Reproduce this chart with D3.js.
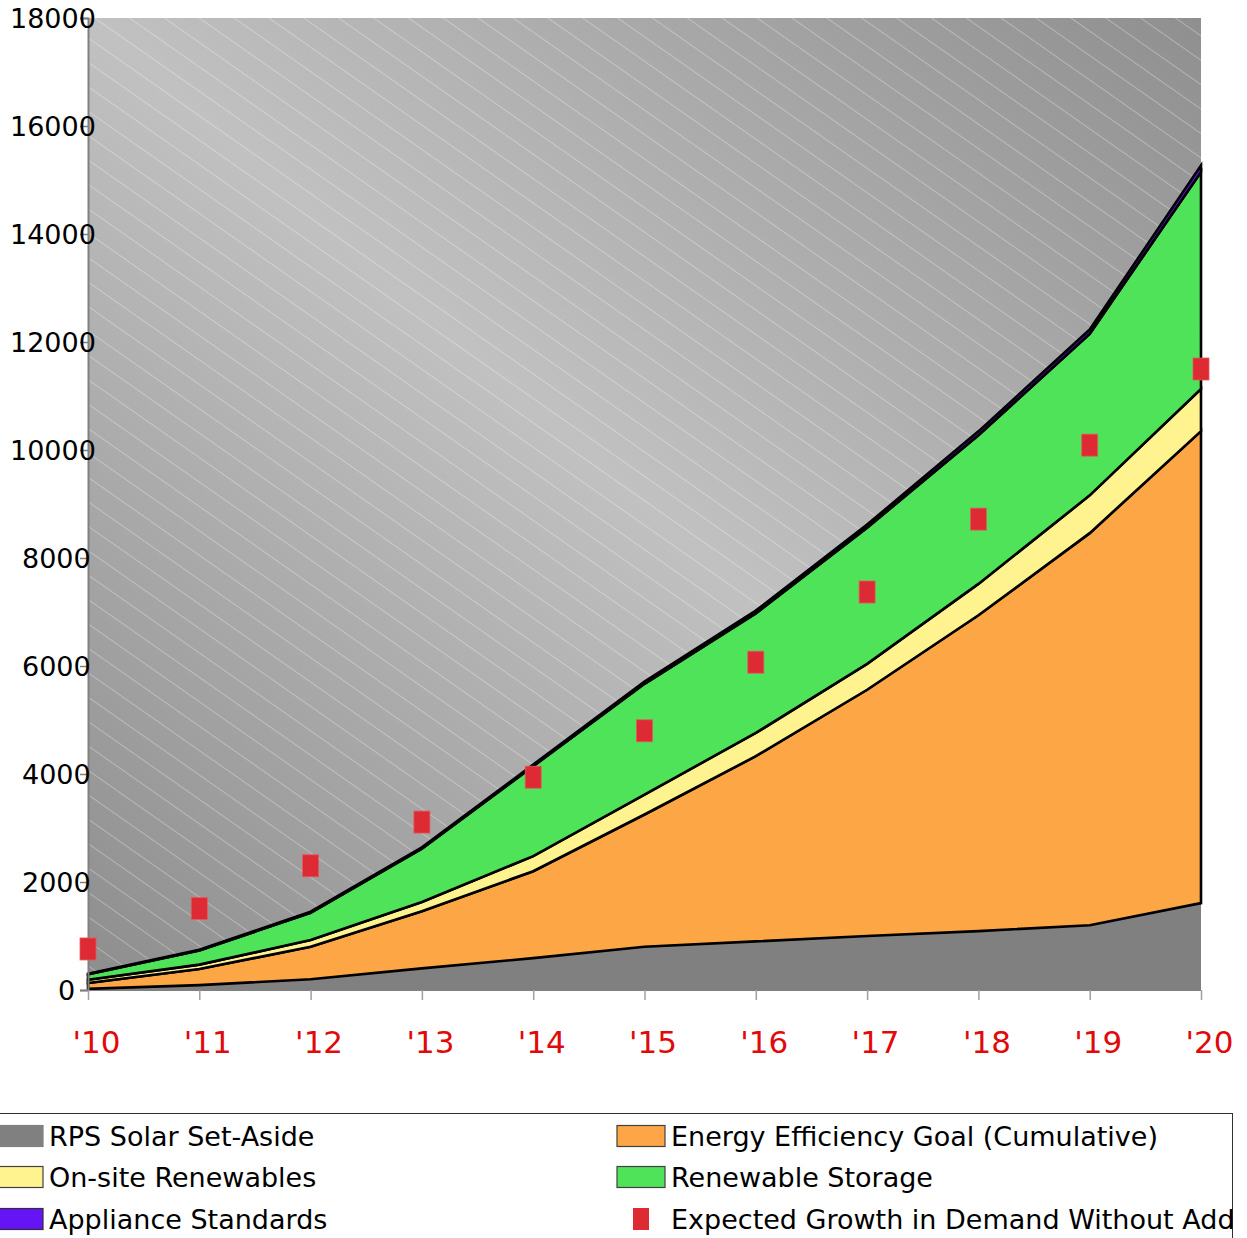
<!DOCTYPE html>
<html>
<head>
<meta charset="utf-8">
<script src="https://cdn.jsdelivr.net/npm/d3@7"></script>
<style>
  html, body { margin: 0; padding: 0; background: #ffffff; }
  svg { display: block; font-family: "DejaVu Sans", Verdana, sans-serif; }
</style>
</head>
<body>
<svg id="chart" width="1247" height="1238"></svg>
<script>
// Years on the horizontal axis
const years = [2010, 2011, 2012, 2013, 2014, 2015, 2016, 2017, 2018, 2019, 2020];

// Stacked resource contributions (GWh)
const rpsSolar        = [20, 90, 200, 400, 590, 800, 900, 1000, 1090, 1200, 1610];
const energyEff       = [110, 300, 600, 1060, 1610, 2450, 3430, 4560, 5850, 7260, 8740];
const onsiteRenew     = [60, 80, 125, 170, 280, 370, 430, 480, 580, 700, 780];
const renewStorage    = [100, 262, 505, 988, 1665, 2050, 2215, 2520, 2755, 2990, 4020];
const applianceStd    = [10, 15, 20, 25, 30, 40, 50, 60, 70, 80, 120];

// Demand growth without additional measures
const expectedGrowth  = [760, 1510, 2300, 3110, 3940, 4800, 6070, 7370, 8720, 10090, 11500];

// Axis ticks
const yTicks = [0, 2000, 4000, 6000, 8000, 10000, 12000, 14000, 16000, 18000];

const seriesNames = ["RPS Solar Set-Aside", "Energy Efficiency Goal (Cumulative)", "On-site Renewables",
                     "Renewable Storage", "Appliance Standards"];
const seriesKeys = ["solar", "ee", "onsite", "storage", "appliance"];
const seriesColors = ["#808080", "#fca646", "#fff38f", "#4fe35a", "#6414f5"];
const growthName = "Expected Growth in Demand Without Add";
const growthColor = "#de2a33";

const table = years.map((yr, i) => ({
  year: yr,
  solar: rpsSolar[i],
  ee: energyEff[i],
  onsite: onsiteRenew[i],
  storage: renewStorage[i],
  appliance: applianceStd[i]
}));

const svg = d3.select("#chart");
const plot = { left: 88, right: 1201, top: 18, bottom: 990 };

const x = d3.scaleLinear().domain([2010, 2020]).range([plot.left, plot.right]);
const y = d3.scaleLinear().domain([0, 18000]).range([plot.bottom, plot.top]);

// Plot background: diagonal grey gradient with fine light hatching
const defs = svg.append("defs");
const grad = defs.append("linearGradient")
  .attr("id", "bgGrad")
  .attr("x1", 1).attr("y1", 0).attr("x2", 0).attr("y2", 1);
grad.append("stop").attr("offset", 0).attr("stop-color", "#8f8f8f");
grad.append("stop").attr("offset", 0.5).attr("stop-color", "#c1c1c1");
grad.append("stop").attr("offset", 1).attr("stop-color", "#8d8d8d");

const hatch = defs.append("pattern")
  .attr("id", "hatch")
  .attr("patternUnits", "userSpaceOnUse")
  .attr("width", 40).attr("height", 20)
  .attr("patternTransform", "rotate(35)");
hatch.append("rect")
  .attr("x", 0).attr("y", 0).attr("width", 40).attr("height", 1)
  .attr("fill", "#ffffff").attr("fill-opacity", 0.3);

svg.append("rect")
  .attr("x", plot.left).attr("y", plot.top)
  .attr("width", plot.right - plot.left).attr("height", plot.bottom - plot.top)
  .attr("fill", "url(#bgGrad)");
svg.append("rect")
  .attr("x", plot.left).attr("y", plot.top)
  .attr("width", plot.right - plot.left).attr("height", plot.bottom - plot.top)
  .attr("fill", "url(#hatch)");

// Stacked areas
const stack = d3.stack().keys(seriesKeys);
const layers = stack(table);

const area = d3.area()
  .x(d => x(d.data.year))
  .y0(d => y(d[0]))
  .y1(d => y(d[1]));

svg.append("g")
  .selectAll("path")
  .data(layers)
  .join("path")
  .attr("d", area)
  .attr("fill", (d, i) => seriesColors[i])
  .attr("stroke", (d, i) => i === 0 ? "none" : "#000000")
  .attr("stroke-width", 2.6);

// Axes
const yAxis = svg.append("g")
  .attr("transform", `translate(${plot.left},0)`)
  .call(d3.axisLeft(y).tickValues(yTicks).tickSize(8).tickFormat(d3.format("d")));
yAxis.select(".domain").attr("stroke", "#808080").attr("stroke-width", 2);
yAxis.selectAll(".tick line").attr("stroke", "#808080").attr("stroke-width", 1.5);
yAxis.selectAll(".tick text")
  .attr("text-anchor", "start")
  .attr("x", function () { return -18 - 12 * this.textContent.length; })
  .attr("dy", "0.36em")
  .attr("fill", "#000000")
  .style("font-size", "27px")
  .style("font-family", "'DejaVu Sans', Verdana, sans-serif");

const xAxis = svg.append("g")
  .attr("transform", `translate(0,${plot.bottom})`)
  .call(d3.axisBottom(x).tickValues(years).tickSize(10)
    .tickFormat(d => "'" + String(d).slice(2)));
xAxis.select(".domain").attr("stroke", "#808080").attr("stroke-width", 1);
xAxis.selectAll(".tick line").attr("stroke", "#a0a0a0").attr("stroke-width", 1.5);
xAxis.selectAll(".tick text")
  .attr("y", 63)
  .attr("dy", 0)
  .attr("dx", 8)
  .attr("fill", "#e00a0a")
  .style("font-size", "31px")
  .style("font-family", "'DejaVu Sans', Verdana, sans-serif");

// Expected growth markers
const mw = 16, mh = 22;
svg.append("g")
  .selectAll("rect")
  .data(years.map((yr, i) => ({ year: yr, value: expectedGrowth[i] })))
  .join("rect")
  .attr("x", d => x(d.year) - mw / 2)
  .attr("y", d => y(d.value) - mh / 2)
  .attr("width", mw).attr("height", mh)
  .attr("fill", growthColor)
  .attr("stroke", "#e25a5f").attr("stroke-width", 0.8);

// Legend
const legend = svg.append("g");
legend.append("rect")
  .attr("x", -3).attr("y", 1113.5)
  .attr("width", 1235.5).attr("height", 200)
  .attr("fill", "#ffffff")
  .attr("stroke", "#303030").attr("stroke-width", 1);

const rowY = [1136, 1177, 1219];
const colX = [-5, 617];
const legendItems = [
  { name: seriesNames[0], color: seriesColors[0], col: 0, row: 0, type: "area", border: "#808080" },
  { name: seriesNames[1], color: seriesColors[1], col: 1, row: 0, type: "area", border: "#404040" },
  { name: seriesNames[2], color: seriesColors[2], col: 0, row: 1, type: "area", border: "#404040" },
  { name: seriesNames[3], color: seriesColors[3], col: 1, row: 1, type: "area", border: "#404040" },
  { name: seriesNames[4], color: seriesColors[4], col: 0, row: 2, type: "area", border: "#303030" },
  { name: growthName, color: growthColor, col: 1, row: 2, type: "marker" }
];

const li = legend.selectAll("g.item")
  .data(legendItems)
  .join("g")
  .attr("class", "item")
  .attr("transform", d => `translate(${colX[d.col]},${rowY[d.row]})`);

li.filter(d => d.type === "area").append("rect")
  .attr("x", 0).attr("y", -10.5)
  .attr("width", 48).attr("height", 21)
  .attr("fill", d => d.color)
  .attr("stroke", d => d.border).attr("stroke-width", 1.2);

li.filter(d => d.type === "marker").append("rect")
  .attr("x", 16).attr("y", -11)
  .attr("width", 16).attr("height", 22)
  .attr("fill", d => d.color);

li.append("text")
  .attr("x", 54)
  .attr("y", 10)
  .attr("fill", "#000000")
  .style("font-size", "27px")
  .text(d => d.name);
</script>
</body>
</html>
